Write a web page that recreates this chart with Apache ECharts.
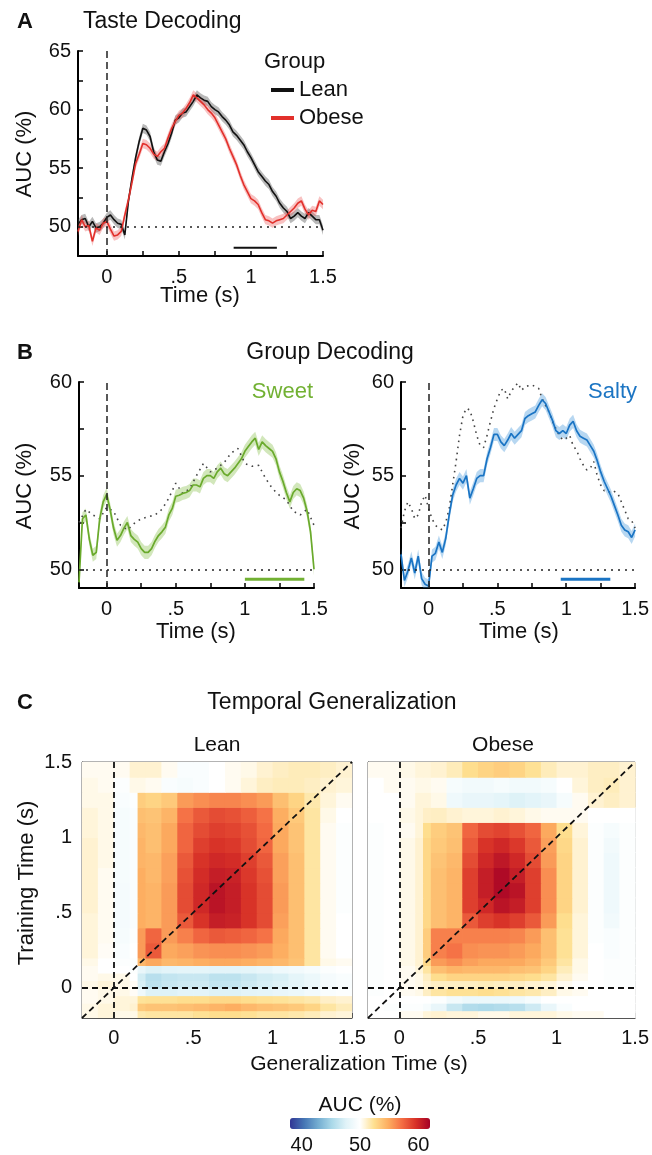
<!DOCTYPE html>
<html>
<head>
<meta charset="utf-8">
<script src="https://cdn.jsdelivr.net/npm/echarts@6/dist/echarts.min.js"></script>
<style>
html,body{margin:0;padding:0;background:#fff;}
#main{width:652px;height:1155px;}
</style>
</head>
<body>
<div id="main"></div>
<script>
// time bases (s)
var t025 = [-0.2,-0.175,-0.15,-0.125,-0.1,-0.075,-0.05,-0.025,
	0,0.025,0.05,0.075,0.1,0.125,0.15,0.175,
	0.2,0.225,0.25,0.275,0.3,0.325,0.35,0.375,
	0.4,0.425,0.45,0.475,0.5,0.525,0.55,0.575,
	0.6,0.625,0.65,0.675,0.7,0.725,0.75,0.775,
	0.8,0.825,0.85,0.875,0.9,0.925,0.95,0.975,
	1,1.025,1.05,1.075,1.1,1.125,1.15,1.175,
	1.2,1.225,1.25,1.275,1.3,1.325,1.35,1.375,
	1.4,1.425,1.45,1.475,1.5];
var t05 = [-0.2,-0.15,-0.1,-0.05,0,0.05,0.1,0.15,
	0.2,0.25,0.3,0.35,0.4,0.45,0.5,0.55,
	0.6,0.65,0.7,0.75,0.8,0.85,0.9,0.95,
	1,1.05,1.1,1.15,1.2,1.25,1.3,1.35,
	1.4,1.45,1.5];

// A: taste decoding AUC (%)
var leanAUC = [50.2,50.6,50.7,50.0,50.45,49.9,50.0,50.3,
	50.8,51.0,50.6,50.3,50.2,49.3,52.2,54.15,
	55.9,57.3,58.4,58.25,57.7,56.4,55.7,55.6,
	56.4,57.1,58.0,59.1,59.3,59.7,59.8,60.25,
	60.7,61.25,61.0,60.8,60.7,60.25,60.0,59.8,
	59.4,59.1,58.7,58.1,57.8,57.4,57.0,56.4,
	55.9,55.3,54.7,54.3,53.9,53.6,53.0,52.6,
	52.0,51.6,51.3,50.7,50.9,51.2,50.9,50.7,
	51.2,50.9,50.6,50.6,49.7];
var obeseAUC = [49.6,50.6,50.0,50.1,48.75,49.9,49.7,50.3,
	50.45,49.8,49.2,49.3,49.6,51.0,52.3,53.8,
	55.4,56.2,57.1,57.0,56.7,56.2,56.0,56.4,
	56.7,57.6,58.4,59.0,59.5,59.7,60.1,60.6,
	61.25,61.0,60.7,60.4,60.0,59.7,59.3,58.7,
	58.1,57.5,56.7,56.0,55.3,54.4,53.6,53.0,
	52.4,52.2,51.9,51.2,50.6,50.5,50.3,50.5,
	50.6,50.7,51.0,51.3,51.6,52.0,52.2,51.5,
	51.0,51.4,51.3,52.2,51.9];
var semA = 0.4;
var sigA = [0.88, 1.18];
var sigLevelA = 48.2;

// B: group decoding AUC (%)
var sweetAUC = [49.3,52.7,52.9,51.6,50.75,50.9,52.7,53.6,
	54.0,53.2,52.2,51.55,51.8,52.2,52.5,51.8,
	51.6,51.45,51.1,50.9,50.9,51.1,51.5,51.8,
	52.0,52.25,52.9,53.25,53.9,53.95,54.05,54.1,
	54.2,54.5,54.5,54.4,54.85,55.0,55.0,54.85,
	55.2,55.4,55.1,55.0,55.2,55.4,55.65,55.9,
	56.3,56.55,56.8,57.0,56.4,56.8,56.6,56.45,
	56.3,55.9,55.2,54.7,54.1,53.6,54.1,54.3,
	54.2,53.8,53.1,52.0,50.0];
var sweetDotted = [52.5,53.2,52.9,52.7,53.3,53.1,52.35,52.1,
	52.45,52.7,52.8,52.9,53.2,53.8,54.6,54.05,
	54.3,55.0,55.65,55.2,55.4,55.7,56.2,56.45,
	55.65,55.5,55.55,54.85,54.3,53.95,53.7,53.1,
	52.9,53.2,52.35];
var saltyAUC = [50.8,49.4,49.9,50.6,49.8,50.7,49.5,49.2,
	49.1,50.7,50.85,51.45,50.9,51.65,52.9,53.95,
	54.5,54.85,54.6,55.0,53.8,54.3,54.85,55.0,
	55.0,55.9,56.5,57.2,57.2,56.8,56.6,56.9,
	57.25,57.0,57.2,57.4,58.05,58.2,58.3,58.4,
	58.75,59.05,58.85,58.4,57.95,57.4,57.25,57.4,
	57.25,57.7,57.9,57.4,57.1,57.0,56.9,56.6,
	56.3,55.8,55.2,54.7,54.3,53.9,53.4,52.9,
	52.35,52.1,52.0,51.7,52.1];
var saltyDotted = [52.2,53.1,53.6,53.25,52.7,52.9,53.6,53.95,
	53.25,52.7,52.35,52.2,52.1,52.5,53.25,54.5,
	55.75,57.15,58.2,58.6,58.5,57.9,57.15,56.6,
	56.5,57.15,57.9,58.6,59.1,59.55,59.65,59.1,
	59.5,59.75,59.95,59.55,59.75,59.8,59.85,59.75,
	59.65,59.1,58.75,58.4,57.9,57.5,57.15,56.9,
	57.0,57.15,56.6,56.35,55.9,55.55,55.3,55.4,
	55.75,55.0,54.5,54.2,54.2,54.05,54.15,54.05,
	53.6,53.15,52.7,52.6,52.2];
var semB = 0.35;
var sigSweet = [1.0, 1.43];
var sigSalty = [0.96, 1.32];
var sigLevelB = 49.47;

var chance = 50;
var onset = 0;

// C: temporal generalization, bins (s)
var genEdges = [-0.2,-0.1,0,0.1,0.15,0.2,0.3,0.4,0.5,0.6,0.7,0.8,0.9,1.0,1.1,1.2,1.3,1.4,1.5];
var trainEdges = [-0.2,-0.15,-0.1,-0.05,0,0.05,0.1,0.15,0.2,0.3,0.4,0.5,0.6,0.7,0.8,0.9,1.0,1.1,1.2,1.3,1.4,1.5];

// rows = training bins (bottom to top), cols = generalization bins
var leanTG = [
	[50.5,50.8,50.5,50.5,51.8,52,52,52,52.3,52.5,52.5,52.3,52,52,51.8,51.5,51,50.8],
	[50.5,50.8,50.8,51,53.5,53.8,53.8,54,54.2,54.5,54.8,54.3,54,53.8,53.5,53,52,51.5],
	[50.3,50.5,50.8,50.8,52.2,52.3,52.3,52.5,52.5,52.8,52.8,52.5,52.3,52.2,52,51.8,51.2,51],
	[50.3,50.5,50.5,50.2,48.8,47.5,47.5,47.8,47.8,47.5,47.5,47.8,48,48.3,48.5,49,49.5,49.8],
	[50.5,50.8,50.5,50.2,47.3,46,46.5,46.8,46.8,46.3,46.3,46.8,47.2,47.5,48,48.5,49.2,49.5],
	[50.3,50.5,50.5,50,47,45.8,46.3,46.5,46.5,46,46,46.5,47,47.3,48,48.5,49.2,49.5],
	[50.3,50,50,49.8,48.3,47.5,47.8,48,48,47.8,47.8,48,48.3,48.8,49,49.3,49.8,50],
	[50.5,50,49.8,49.8,54.3,55,54.3,54.5,54.8,55,55,54.8,54.5,54.3,53.8,52,50.5,50.3],
	[50.8,50.2,49.5,50,55.5,58,55,55.3,55.8,56,56,55.8,55.5,54.8,54,52,50.3,50],
	[50.8,50.3,49.3,49.8,55.5,57.5,55.5,56.5,57.5,58,57.8,57.5,57,55,54,52,50.3,50],
	[50.8,50.3,49.2,49.5,54.8,54.5,55.5,58,59.5,60.5,60.3,59.5,58.5,55.3,54,52,50.3,50],
	[51,50.3,49.2,49.5,54.8,54.5,55.5,58.5,60,61,60.5,59.5,58.5,55.5,54,52,50.3,49.8],
	[51,50.3,49.2,49.5,54.8,54.5,55.5,58.5,60,61,60.5,59.5,58.5,55.5,54,52,50.3,49.8],
	[51,50.3,49.3,49.5,54.8,54.3,55.3,58.3,59.8,60.5,60.3,59.3,58.3,55.3,54,52,50.3,49.8],
	[51,50.5,49.3,49.5,54.5,54.3,55.3,58,59.5,60,59.8,59,58,55.3,54,52,50.3,49.8],
	[51,50.5,49.3,49.5,54.5,54,55,57.5,59,59.5,59.3,58.5,57.5,55,53.8,52,50.3,49.8],
	[50.8,50.5,49.3,49.5,54.3,54,55,57.5,58.5,59,58.8,58.3,57.3,55,53.8,52,50.3,49.8],
	[50.8,50.5,49.3,49.5,54,53.8,54.5,57,58,58.5,58.3,57.8,57,54.8,53.5,52,50.5,50],
	[50.5,50.5,49.5,49.8,53.3,53,53.5,55.5,56,56.3,56.3,56,55.5,54,53,51.8,50.8,50.3],
	[50.5,50.3,49.8,50.5,50.5,50.3,49.5,49.3,49.5,50,50.3,50.8,51.3,51.5,51.5,51.3,51,50.8],
	[50.3,50.3,50.3,51,51,51,50.3,49.5,49.5,50,50.3,50.5,51,51.3,51.5,51.5,51.3,51]
];
var obeseTG = [
	[50,50,50.3,50.3,50.8,51,50.8,50.8,50.5,50.5,50.8,50.8,50.8,50.5,50.3,50.3,50,50],
	[50,49.8,49.8,49.8,49.3,48.3,46.5,45.5,45.3,45.5,45.8,46.8,48.3,49.5,50,50,50,50],
	[50,50,50,50,50,49.8,49,48.5,48.5,48.5,48.8,49.3,50,50,50,50,50,50],
	[49.8,50,50.3,50.5,51.3,52,52.3,52.3,52.5,52.3,52,51.8,51.3,50.5,50.3,50,50,50],
	[49.8,50,50.3,50.5,51,51.3,51.3,51.3,51.5,51.3,51.3,51,50.8,50.3,50,50,49.8,49.8],
	[49.8,50,50.3,50.5,51.3,52.5,53,53,53,53,52.8,52.5,52,51,50.3,50,49.8,49.8],
	[49.8,50,50.3,50.8,52,54,54.5,54.3,54.3,54.3,54,53.8,53,51.5,50.5,50,49.8,49.8],
	[49.8,50,50.5,51,52.8,55.5,56,55.3,55,55,55,54.5,53.5,52,50.5,50,49.8,49.8],
	[49.8,50,50.5,51,53.3,56.5,57,56,55.8,55.8,55.5,55,54,52.3,50.8,50,49.5,49.8],
	[49.8,50,50.5,51,53.3,56.5,56.5,56.5,56.5,56.5,56.3,55.5,54,52.3,50.8,49.8,49.5,49.8],
	[49.8,50,50.5,51,52.8,54,54.5,58,59,59.5,59,58,55.5,52.5,50.8,49.8,49,49.8],
	[49.8,50,50.5,51,52.8,54,54.5,59,60,61,60.5,59,56,53,51,49.8,48.8,49.8],
	[49.8,50,50.5,51,52.8,54,54.5,59,60.5,61.5,61,59,56,53,51,49.8,48.8,49.8],
	[49.8,50,50.5,51,52.8,54,54.5,59,60.5,61.5,60.5,59,56,53,51,49.8,48.8,49.8],
	[49.8,50,50.5,51,52.8,53.8,54.3,58.5,60,60.8,60,58.5,55.5,53,51,49.8,48.8,49.8],
	[49.8,50,50.5,51,52.8,53.5,54,58,59.5,60,59.3,58,55.3,52.8,51,49.8,49,49.8],
	[49.8,50,50.3,50.8,52.5,53.3,53.8,57.5,58.5,58.8,58.3,57.5,55,52.5,50.8,49.8,49.3,49.8],
	[50,50,50.5,50.8,51.2,51.3,51,50.8,50.8,51,50.8,50.5,50.3,50.3,50.3,50,50,50],
	[50,50,50.3,50.8,50.8,50.5,48.8,48.3,48.3,48,47.5,47.8,48.3,49.3,50.3,51,51.3,51],
	[50,50.3,50.3,50.5,50.5,50.3,49.3,49,49,49.3,49,49,49.3,50,50.8,51.3,51.5,51],
	[50.3,50.3,50.5,50.8,50.8,51,51.5,52.5,53,53.3,53,52.3,51.5,51,51,51.3,51.3,51]
];

var tickTimes = [0,0.25,0.5,0.75,1,1.25,1.5];
var labelTimes = [0,0.5,1,1.5];
var cmap = ['#313695','#4575b4','#74add1','#abd9e9','#e0f3f8','#ffffff','#fee090','#fdae61','#f46d43','#d73027','#a50026'];

var FONT = '"Liberation Sans", Arial, Helvetica, sans-serif';

function fmtTime(v){
	if(v===0) return '0';
	return String(v).replace(/^0\./,'.');
}
function pairs(ts, vs){
	return ts.map(function(t,i){ return [t, vs[i]]; });
}
// shaded error band drawn as one polygon through the axis scales
function bandSeries(ts, vs, sem, color, ai){
	return {
		type:'custom', xAxisIndex:ai, yAxisIndex:ai, silent:true, clip:true,
		data:pairs(ts, vs), encode:{x:0, y:1},
		renderItem:function(params, api){
			if(params.dataIndex!==0) return null;
			var up = [], dn = [];
			for(var i=0;i<ts.length;i++){
				up.push(api.coord([ts[i], vs[i]+sem]));
				dn.unshift(api.coord([ts[i], vs[i]-sem]));
			}
			return {type:'polygon', shape:{points:up.concat(dn)}, style:{fill:color}};
		}
	};
}
function lineAxisX(gi){
	return {
		gridIndex:gi, type:'value', min:-0.2, max:1.5,
		axisLine:{show:true, onZero:false, lineStyle:{color:'#000', width:2}},
		axisTick:{show:true, inside:true, length:5, customValues:tickTimes, lineStyle:{color:'#000', width:1.5}},
		axisLabel:{customValues:labelTimes, formatter:fmtTime, fontSize:20, color:'#111', margin:11, fontFamily:FONT},
		splitLine:{show:false}
	};
}
function lineAxisY(gi, mn, mx, ticks, labels){
	return {
		gridIndex:gi, type:'value', min:mn, max:mx,
		axisLine:{show:true, onZero:false, lineStyle:{color:'#000', width:2}},
		axisTick:{show:true, inside:true, length:5, customValues:ticks, lineStyle:{color:'#000', width:1.5}},
		axisLabel:{customValues:labels, fontSize:20, color:'#111', margin:7, fontFamily:FONT},
		splitLine:{show:false}
	};
}
function mapAxis(gi, labels){
	return {
		gridIndex:gi, type:'value', min:-0.2, max:1.5,
		axisLine:{show:true, onZero:false, lineStyle:{color:'#555', width:1}},
		axisTick:{show:true, inside:true, length:5, customValues:tickTimes, lineStyle:{color:'#555', width:1}},
		axisLabel:{show:labels, customValues:labelTimes, formatter:fmtTime, fontSize:20, color:'#111', margin:10, fontFamily:FONT},
		splitLine:{show:false}
	};
}
function cellData(grid){
	var out = [];
	for(var i=0;i<grid.length;i++){
		for(var j=0;j<grid[i].length;j++){
			out.push([genEdges[j], genEdges[j+1], trainEdges[i], trainEdges[i+1], grid[i][j]]);
		}
	}
	return out;
}
function renderCell(params, api){
	var a = api.coord([api.value(0), api.value(3)]);
	var b = api.coord([api.value(1), api.value(2)]);
	return {
		type:'rect',
		shape:{x:a[0], y:a[1], width:b[0]-a[0]+0.7, height:b[1]-a[1]+0.7},
		style:{fill:api.visual('color')}
	};
}
function sigSeries(win, level, color, width, ai){
	return {type:'line', xAxisIndex:ai, yAxisIndex:ai, data:[[win[0],level],[win[1],level]],
		symbol:'none', silent:true, lineStyle:{color:color, width:width}};
}
function refLines(){
	return {
		symbol:'none', silent:true, label:{show:false},
		data:[
			{yAxis:chance, lineStyle:{type:[2,5], width:1.5, color:'#222'}},
			{xAxis:onset, lineStyle:{type:[7,4], width:1.5, color:'#222'}}
		]
	};
}

var series = [];
series.push(bandSeries(t025, leanAUC, semA, 'rgba(80,80,80,0.4)', 0));
series.push(bandSeries(t025, obeseAUC, semA, 'rgba(235,80,80,0.35)', 0));
series.push({type:'line', name:'Lean', xAxisIndex:0, yAxisIndex:0, data:pairs(t025, leanAUC),
	symbol:'none', color:'#111', lineStyle:{color:'#111', width:1.6}, markLine:refLines()});
series.push({type:'line', name:'Obese', xAxisIndex:0, yAxisIndex:0, data:pairs(t025, obeseAUC),
	symbol:'none', color:'#e2302b', lineStyle:{color:'#e2302b', width:1.6}});
series.push(sigSeries(sigA, sigLevelA, '#111', 2, 0));

series.push(bandSeries(t025, sweetAUC, semB, 'rgba(125,185,60,0.35)', 1));
series.push({type:'line', xAxisIndex:1, yAxisIndex:1, data:pairs(t05, sweetDotted), symbol:'none',
	lineStyle:{color:'#444', width:1.6, type:[1.6,4.5]}, markLine:refLines()});
series.push({type:'line', xAxisIndex:1, yAxisIndex:1, data:pairs(t025, sweetAUC), symbol:'none',
	lineStyle:{color:'#6aaa2c', width:1.7}});
series.push(sigSeries(sigSweet, sigLevelB, '#72b133', 3, 1));

series.push(bandSeries(t025, saltyAUC, semB, 'rgba(50,140,215,0.35)', 2));
series.push({type:'line', xAxisIndex:2, yAxisIndex:2, data:pairs(t025, saltyDotted), symbol:'none',
	lineStyle:{color:'#444', width:1.6, type:[1.6,4.5]}, markLine:refLines()});
series.push({type:'line', xAxisIndex:2, yAxisIndex:2, data:pairs(t025, saltyAUC), symbol:'none',
	lineStyle:{color:'#1a74c4', width:1.7}});
series.push(sigSeries(sigSalty, sigLevelB, '#1a74c4', 3, 2));

var mapLines = {
	symbol:'none', silent:true, label:{show:false},
	lineStyle:{type:[6,4], width:1.8, color:'#111'},
	data:[
		{xAxis:onset},
		{yAxis:onset},
		[{coord:[genEdges[0], trainEdges[0]]},{coord:[genEdges[genEdges.length-1], trainEdges[trainEdges.length-1]]}]
	]
};
var cellIdx = [];
cellIdx.push(series.length);
series.push({type:'custom', xAxisIndex:3, yAxisIndex:3, renderItem:renderCell, clip:true,
	encode:{x:[0,1], y:[2,3]}, data:cellData(leanTG), markLine:mapLines});
cellIdx.push(series.length);
series.push({type:'custom', xAxisIndex:4, yAxisIndex:4, renderItem:renderCell, clip:true,
	encode:{x:[0,1], y:[2,3]}, data:cellData(obeseTG), markLine:mapLines});

function txt(x, y, s, size, opts){
	opts = opts || {};
	return {
		type:'text', x:x, y:y, rotation:opts.rot || 0, silent:true,
		style:{text:s, fontSize:size, fontFamily:FONT, fontWeight:opts.bold?'bold':'normal',
			fill:opts.color || '#111', align:opts.align || 'center', verticalAlign:'middle',
			textAlign:opts.align || 'center', textVerticalAlign:'middle'}
	};
}

var option = {
	animation:false,
	backgroundColor:'#fff',
	grid:[
		{left:78, top:51, width:245, height:205},
		{left:79, top:382, width:235, height:206},
		{left:401, top:382, width:236, height:206},
		{left:82, top:762, width:270, height:256, show:true, borderColor:'#666', borderWidth:1},
		{left:368, top:762, width:269, height:256, show:true, borderColor:'#666', borderWidth:1},
		{left:290, top:1118, width:140, height:11}
	],
	xAxis:[
		lineAxisX(0), lineAxisX(1), lineAxisX(2),
		mapAxis(3,true), mapAxis(4,true),
		{gridIndex:5, type:'value', min:38, max:62, axisLine:{show:false}, axisTick:{show:false},
			splitLine:{show:false},
			axisLabel:{customValues:[40,50,60], fontSize:20, color:'#111', margin:6, fontFamily:FONT}}
	],
	yAxis:[
		lineAxisY(0, 47.5, 65, [47.5,50,52.5,55,57.5,60,62.5,65], [50,55,60,65]),
		lineAxisY(1, 49, 60, [50,52.5,55,57.5,60], [50,55,60]),
		lineAxisY(2, 49, 60, [50,52.5,55,57.5,60], [50,55,60]),
		mapAxis(3,true), mapAxis(4,false),
		{gridIndex:5, type:'value', show:false}
	],
	visualMap:{
		type:'continuous', min:38, max:62, seriesIndex:cellIdx, dimension:4,
		inRange:{color:cmap}, orient:'horizontal', left:285, top:1113,
		itemWidth:11, itemHeight:140, calculable:false, padding:5,
		formatter:function(){ return ''; }, textStyle:{fontSize:1, color:'rgba(0,0,0,0)'}
	},
	legend:{
		data:['Lean','Obese'], orient:'vertical', left:266, top:74,
		icon:'rect', itemWidth:23, itemHeight:4, itemGap:6,
		textStyle:{fontSize:22, color:'#111', fontFamily:FONT}
	},
	graphic:[
		txt(17, 22, 'A', 22, {bold:true, align:'left'}),
		txt(83, 22, 'Taste Decoding', 23, {align:'left'}),
		txt(264, 62, 'Group', 22, {align:'left'}),
		txt(25, 154, 'AUC (%)', 22, {rot:Math.PI/2}),
		txt(200, 296, 'Time (s)', 22),
		txt(17, 353, 'B', 22, {bold:true, align:'left'}),
		txt(330, 353, 'Group Decoding', 23),
		txt(313, 392, 'Sweet', 22, {align:'right', color:'#72b133'}),
		txt(637, 392, 'Salty', 22, {align:'right', color:'#1c75c3'}),
		txt(25, 486, 'AUC (%)', 22, {rot:Math.PI/2}),
		txt(353, 486, 'AUC (%)', 22, {rot:Math.PI/2}),
		txt(196, 632, 'Time (s)', 22),
		txt(519, 632, 'Time (s)', 22),
		txt(17, 703, 'C', 22, {bold:true, align:'left'}),
		txt(332, 703, 'Temporal Generalization', 23),
		txt(217, 745, 'Lean', 21),
		txt(503, 745, 'Obese', 21),
		txt(27, 883, 'Training Time (s)', 22, {rot:Math.PI/2}),
		txt(359, 1064, 'Generalization Time (s)', 21),
		txt(360, 1105, 'AUC (%)', 21)
	],
	series:series
};

var myChart = echarts.init(document.getElementById('main'), null, {renderer:'canvas'});
myChart.setOption(option);
</script>
</body>
</html>
